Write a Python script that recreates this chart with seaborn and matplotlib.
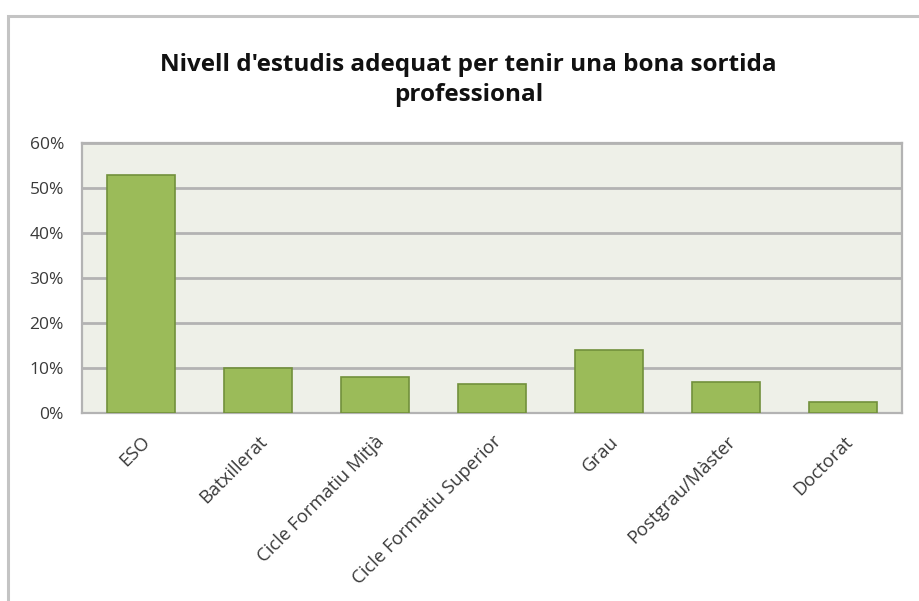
import matplotlib.pyplot as plt
import matplotlib.patches as mpatches
import pandas as pd
import seaborn as sb
from matplotlib.ticker import PercentFormatter

# data
categories = ["ESO", "Batxillerat", "Cicle Formatiu Mitjà", "Cicle Formatiu Superior",
              "Grau", "Postgrau/Màster", "Doctorat"]
percentages = [53, 10, 8, 6.5, 14, 7, 2.5]
y_ticks = [0, 10, 20, 30, 40, 50, 60]
title = "Nivell d'estudis adequat per tenir una bona sortida\nprofessional"

df = pd.DataFrame({"nivell": categories, "pct": percentages})

sb.set_style("white", {"axes.facecolor": "#eef0e8"})
plt.rcParams["font.family"] = ["Open Sans", "DejaVu Sans"]

fig = plt.figure(figsize=(9.19, 6.01), dpi=100)
ax = fig.add_axes([0.0892, 0.3128, 0.8923, 0.4492])

# outer chart frame (only top and left edges visible in the crop)
fig.patches.append(mpatches.Rectangle((8 / 919, -0.1), 1.2, 1.1 - 16 / 601,
                                      transform=fig.transFigure, fill=False,
                                      edgecolor="#c4c4c4", linewidth=2.2))

sb.barplot(data=df, x="nivell", y="pct", color="#9bbb59", edgecolor="#72903c",
           linewidth=1.2, width=0.58, saturation=1, ax=ax, zorder=3)

ax.set_ylim(0, 60)
ax.set_yticks(y_ticks)
ax.yaxis.set_major_formatter(PercentFormatter(decimals=0))
ax.yaxis.grid(True, color="#b3b3b3", linewidth=2.0, zorder=0)
ax.set_axisbelow(True)
for s in ax.spines.values():
    s.set_color("#b3b3b3")
    s.set_linewidth(1.6)

ax.set_xlabel("")
ax.set_ylabel("")
ax.tick_params(axis="y", length=0, pad=13, labelsize=12.5, labelcolor="#3a3a3a")
ax.tick_params(axis="x", length=0, pad=14, labelsize=13.3, labelcolor="#3a3a3a")
plt.setp(ax.get_xticklabels(), rotation=45, ha="right", rotation_mode="anchor")

fig.text(0.51, 0.867, title, ha="center", va="center", fontsize=17.5,
         fontweight="bold", color="#111111", linespacing=1.38)

fig.savefig("out.png", dpi=100, facecolor="white")
